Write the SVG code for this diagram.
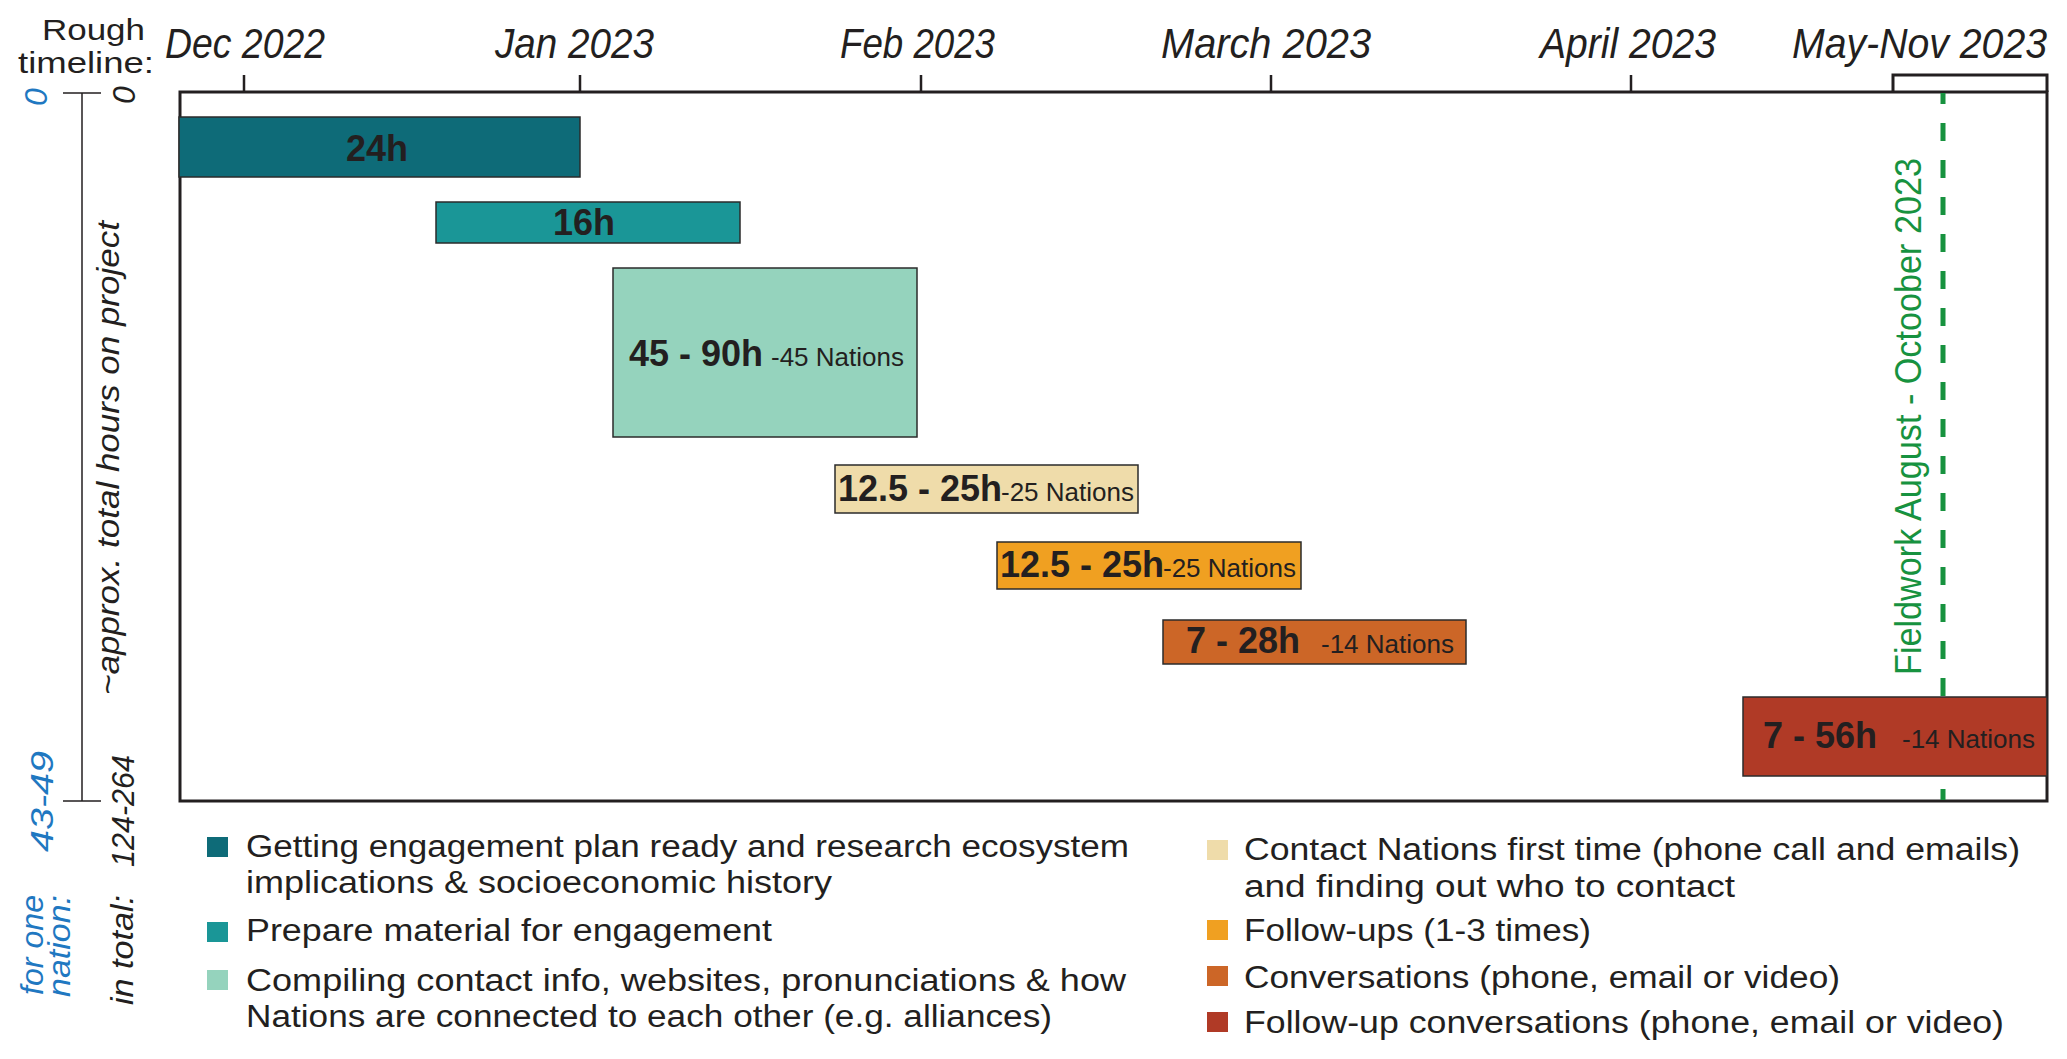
<svg xmlns="http://www.w3.org/2000/svg" width="2067" height="1059" viewBox="0 0 2067 1059">
<style>
text{font-family:"Liberation Sans",Arial,sans-serif;fill:#231f20}
.mon{font-size:42px;font-style:italic}
.hdr{font-size:30px}
.bold{font-size:36px;font-weight:bold}
.nat{font-size:26px}
.leg{font-size:31px}
.rot{font-size:32px;font-style:italic}
.blue{fill:#1f78c1}
.bar{stroke:#2b2b2b;stroke-width:1.5}
.ax{stroke:#231f20;fill:none}
.fw{font-size:37px;fill:#17923f}
</style>
<rect width="2067" height="1059" fill="#fff"/>
<g id="header">
<text class="hdr" x="42" y="40" textLength="103" lengthAdjust="spacingAndGlyphs">Rough</text>
<text class="hdr" x="18" y="73" textLength="136" lengthAdjust="spacingAndGlyphs">timeline:</text>
<text class="mon" x="165" y="58" textLength="160" lengthAdjust="spacingAndGlyphs">Dec 2022</text>
<text class="mon" x="495" y="58" textLength="159" lengthAdjust="spacingAndGlyphs">Jan 2023</text>
<text class="mon" x="840" y="58" textLength="155" lengthAdjust="spacingAndGlyphs">Feb 2023</text>
<text class="mon" x="1161" y="58" textLength="210" lengthAdjust="spacingAndGlyphs">March 2023</text>
<text class="mon" x="1540" y="58" textLength="176" lengthAdjust="spacingAndGlyphs">April 2023</text>
<text class="mon" x="1792" y="58" textLength="255" lengthAdjust="spacingAndGlyphs">May-Nov 2023</text>
</g>
<g id="frame">
<rect class="ax" x="180" y="92" width="1867" height="709" stroke-width="3"/>
<path class="ax" stroke-width="2.5" d="M244,75V92M580,75V92M921,75V92M1271,75V92M1631,75V92"/>
<path class="ax" stroke-width="3" d="M1893,92V75H2047V92"/>
</g>
<g id="y-axis">
<path class="ax" stroke-width="1.5" d="M82,93V801M63,93H101M63,801H101"/>
<text class="rot blue" font-size="33" text-anchor="middle" transform="translate(47,97) rotate(-90)">0</text>
<text class="rot" font-size="33" text-anchor="middle" transform="translate(135,95) rotate(-90)">0</text>
<text class="rot" font-size="29" transform="translate(119,695) rotate(-90)" textLength="474" lengthAdjust="spacingAndGlyphs">~approx. total hours on project</text>
<text class="rot blue" transform="translate(53,852) rotate(-90)" textLength="101" lengthAdjust="spacingAndGlyphs">43-49</text>
<text class="rot" transform="translate(134,867) rotate(-90)" textLength="112" lengthAdjust="spacingAndGlyphs">124-264</text>
<text class="rot blue" transform="translate(43,995) rotate(-90)" textLength="100" lengthAdjust="spacingAndGlyphs">for one</text>
<text class="rot blue" transform="translate(70,997) rotate(-90)" textLength="102" lengthAdjust="spacingAndGlyphs">nation:</text>
<text class="rot" transform="translate(133,1005) rotate(-90)" textLength="110" lengthAdjust="spacingAndGlyphs">in total:</text>
</g>
<g id="fieldwork">
<line x1="1943" y1="93" x2="1943" y2="800" stroke="#17923f" stroke-width="5" stroke-dasharray="18 19" stroke-dashoffset="7"/>
<text class="fw" transform="translate(1921,675) rotate(-90)" textLength="517" lengthAdjust="spacingAndGlyphs">Fieldwork August - Octoober 2023</text>
</g>
<g id="bar-engagement-plan">
<rect class="bar" x="179" y="117" width="401" height="60" fill="#0e6b78"/>
<text class="bold" x="346" y="161">24h</text>
</g>
<g id="bar-prepare-material">
<rect class="bar" x="436" y="202" width="304" height="41" fill="#1a9697"/>
<text class="bold" x="584" y="235" text-anchor="middle">16h</text>
</g>
<g id="bar-compiling">
<rect class="bar" x="613" y="268" width="304" height="169" fill="#95d3bd"/>
<text x="629" y="366"><tspan class="bold">45 - 90h</tspan><tspan class="nat" x="771">-45 Nations</tspan></text>
</g>
<g id="bar-contact-first">
<rect class="bar" x="835" y="465" width="303" height="48" fill="#efdcaa"/>
<text x="838" y="501"><tspan class="bold">12.5 - 25h</tspan><tspan class="nat" x="1001">-25 Nations</tspan></text>
</g>
<g id="bar-follow-ups">
<rect class="bar" x="997" y="542" width="304" height="47" fill="#f0a021"/>
<text x="1000" y="577"><tspan class="bold">12.5 - 25h</tspan><tspan class="nat" x="1163">-25 Nations</tspan></text>
</g>
<g id="bar-conversations">
<rect class="bar" x="1163" y="620" width="303" height="44" fill="#cc6627"/>
<text x="1186" y="653"><tspan class="bold">7 - 28h</tspan><tspan class="nat" x="1321">-14 Nations</tspan></text>
</g>
<g id="bar-follow-up-conversations">
<rect class="bar" x="1743" y="697" width="304" height="79" fill="#b03a26"/>
<text x="1763" y="748"><tspan class="bold">7 - 56h</tspan><tspan class="nat" x="1902">-14 Nations</tspan></text>
</g>
<g id="legend">
<g id="legend-1">
<rect x="207" y="837" width="21" height="20" fill="#0e6b78"/>
<text class="leg" x="246" y="857" textLength="883" lengthAdjust="spacingAndGlyphs">Getting engagement plan ready and research ecosystem</text>
<text class="leg" x="246" y="893" textLength="586" lengthAdjust="spacingAndGlyphs">implications &amp; socioeconomic history</text>
</g>
<g id="legend-2">
<rect x="207" y="922" width="21" height="20" fill="#1a9697"/>
<text class="leg" x="246" y="941" textLength="526" lengthAdjust="spacingAndGlyphs">Prepare material for engagement</text>
</g>
<g id="legend-3">
<rect x="207" y="970" width="21" height="20" fill="#95d3bd"/>
<text class="leg" x="246" y="991" textLength="880" lengthAdjust="spacingAndGlyphs">Compiling contact info, websites, pronunciations &amp; how</text>
<text class="leg" x="246" y="1027" textLength="806" lengthAdjust="spacingAndGlyphs">Nations are connected to each other (e.g. alliances)</text>
</g>
<g id="legend-4">
<rect x="1207" y="840" width="21" height="20" fill="#efdcaa"/>
<text class="leg" x="1244" y="860" textLength="776" lengthAdjust="spacingAndGlyphs">Contact Nations first time (phone call and emails)</text>
<text class="leg" x="1244" y="897" textLength="491" lengthAdjust="spacingAndGlyphs">and finding out who to contact</text>
</g>
<g id="legend-5">
<rect x="1207" y="920" width="21" height="20" fill="#f0a021"/>
<text class="leg" x="1244" y="941" textLength="347" lengthAdjust="spacingAndGlyphs">Follow-ups (1-3 times)</text>
</g>
<g id="legend-6">
<rect x="1207" y="966" width="21" height="20" fill="#cc6627"/>
<text class="leg" x="1244" y="988" textLength="596" lengthAdjust="spacingAndGlyphs">Conversations (phone, email or video)</text>
</g>
<g id="legend-7">
<rect x="1207" y="1012" width="21" height="20" fill="#b03a26"/>
<text class="leg" x="1244" y="1033" textLength="760" lengthAdjust="spacingAndGlyphs">Follow-up conversations (phone, email or video)</text>
</g>
</g>
<g id="connectors"></g>
</svg>
